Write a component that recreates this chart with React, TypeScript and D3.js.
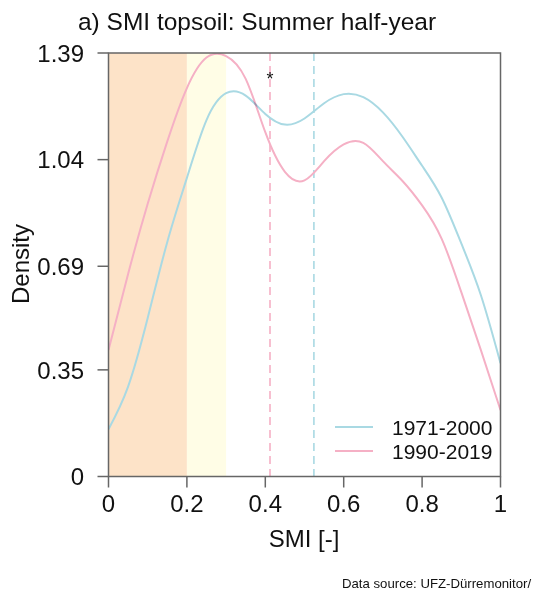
import React from "react";
import * as d3 from "d3";

const seriesNames = ["1971-2000", "1990-2019"];
const seriesColors = ["#a9d9e3", "#f5b0c5"];

const smiGrid = [0, 0.05, 0.1, 0.15, 0.2, 0.25, 0.3, 0.35, 0.4, 0.45, 0.5, 0.55, 0.6, 0.65, 0.7, 0.75, 0.8, 0.85, 0.9, 0.95, 1];
const densBlue = [0.155, 0.295, 0.52, 0.77, 0.98, 1.17, 1.258, 1.25, 1.19, 1.155, 1.175, 1.225, 1.255, 1.245, 1.195, 1.115, 1.02, 0.915, 0.765, 0.595, 0.372];
const densPink = [0.415, 0.665, 0.895, 1.1, 1.275, 1.375, 1.38, 1.305, 1.13, 1.0, 0.972, 1.035, 1.09, 1.095, 1.035, 0.97, 0.89, 0.78, 0.605, 0.415, 0.218];

const yTicks = [0, 0.35, 0.69, 1.04, 1.39];
const xTicks = [0, 0.2, 0.4, 0.6, 0.8, 1];
const medians = [0.524, 0.412];
const bands = [
  { from: 0, to: 0.2, color: "#fde3c8" },
  { from: 0.2, to: 0.3, color: "#fffde6" },
];

export default function App() {
  const left = 108.5, right = 500.5, top = 53, bottom = 476.5;
  const x = d3.scaleLinear().domain([0, 1]).range([left, right]);
  const y = d3.scaleLinear().domain([0, 1.39]).range([bottom, top]);
  const line = d3
    .line<[number, number]>()
    .x((d) => x(d[0]))
    .y((d) => y(d[1]))
    .curve(d3.curveNatural);
  const blue = line(smiGrid.map((s, i) => [s, densBlue[i]] as [number, number]));
  const pink = line(smiGrid.map((s, i) => [s, densPink[i]] as [number, number]));
  const font = "'Liberation Sans', Arial, sans-serif";
  const axisColor = "#666";

  return (
    <svg
      width={536}
      height={592}
      style={{ position: "absolute", left: 0, top: 0, background: "#fff" }}
      fontFamily={font}
    >
      <defs>
        <clipPath id="plotclip">
          <rect x={left} y={top} width={right - left} height={bottom - top} />
        </clipPath>
      </defs>
      <text x={257} y={30} textAnchor="middle" fontSize={24.5} fill="#111">
        a) SMI topsoil: Summer half-year
      </text>
      {bands.map((b, i) => (
        <rect key={i} x={x(b.from)} y={top} width={x(b.to) - x(b.from)} height={bottom - top} fill={b.color} />
      ))}
      {medians.map((m, i) => (
        <line
          key={i}
          x1={x(m)}
          x2={x(m)}
          y1={top}
          y2={bottom}
          stroke={seriesColors[i]}
          strokeWidth={1.6}
          strokeDasharray="8,5"
        />
      ))}
      <g clipPath="url(#plotclip)">
        <path d={blue || ""} fill="none" stroke={seriesColors[0]} strokeWidth={2} style={{ mixBlendMode: "multiply" }} />
        <path d={pink || ""} fill="none" stroke={seriesColors[1]} strokeWidth={2} style={{ mixBlendMode: "multiply" }} />
      </g>
      <text x={x(0.412)} y={85} textAnchor="middle" fontSize={18} fill="#111">
        *
      </text>
      <rect x={left} y={top} width={right - left} height={bottom - top} fill="none" stroke={axisColor} strokeWidth={1.5} />
      {yTicks.map((t) => (
        <g key={t}>
          <line x1={left - 11} x2={left} y1={y(t)} y2={y(t)} stroke={axisColor} strokeWidth={1.5} />
          <text x={84} y={y(t)} dy="0.36em" textAnchor="end" fontSize={24} fill="#111">
            {t === 0 ? "0" : t.toFixed(2)}
          </text>
        </g>
      ))}
      {xTicks.map((t) => (
        <g key={t}>
          <line x1={x(t)} x2={x(t)} y1={bottom} y2={bottom + 11} stroke={axisColor} strokeWidth={1.5} />
          <text x={x(t)} y={512} textAnchor="middle" fontSize={24} fill="#111">
            {t === 0 ? "0" : t === 1 ? "1" : String(t)}
          </text>
        </g>
      ))}
      <text x={304} y={547} textAnchor="middle" fontSize={24} fill="#111">
        SMI [-]
      </text>
      <text transform="translate(29,264) rotate(-90)" textAnchor="middle" fontSize={24} fill="#111">
        Density
      </text>
      {seriesNames.map((n, i) => (
        <g key={n}>
          <line x1={335} x2={373} y1={427 + i * 24} y2={427 + i * 24} stroke={seriesColors[i]} strokeWidth={2} />
          <text x={392} y={427 + i * 24} dy="0.36em" fontSize={21} fill="#111">
            {n}
          </text>
        </g>
      ))}
      <text x={342} y={588} fontSize={13.2} fill="#111">
        Data source: UFZ-Dürremonitor/
      </text>
    </svg>
  );
}
